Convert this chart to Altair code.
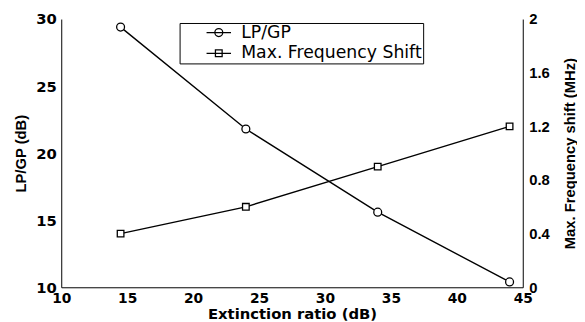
import altair as alt
import pandas as pd

# Data
ext_ratio = [14.5, 24, 34, 44]
lp_gp = [29.4, 21.8, 15.6, 10.4]
freq_shift = [0.4, 0.6, 0.9, 1.2]
series_names = ["LP/GP", "Max. Frequency Shift"]
x_ticks = [10, 15, 20, 25, 30, 35, 40, 45]
left_ticks = [10, 15, 20, 25, 30]
right_ticks = [0, 0.4, 0.8, 1.2, 1.6, 2]

df = pd.DataFrame({"x": ext_ratio, "lp": lp_gp, "fs": freq_shift})
leg_df = pd.DataFrame({"series": series_names})

W, H = 468, 272
BOLD_WIDE = "DejaVu Sans"
ARIAL = "Liberation Sans"

x_enc = alt.X("x:Q", scale=alt.Scale(domain=[10, 45], nice=False),
              axis=alt.Axis(values=x_ticks, title="Extinction ratio (dB)", grid=False,
                            ticks=False, labelFlush=False, labelOverlap=False,
                            labelFont=BOLD_WIDE, labelFontWeight="bold", labelFontSize=14,
                            labelColor="black", labelPadding=4,
                            domainColor="black", domainWidth=1,
                            titleFont=BOLD_WIDE, titleFontWeight="bold", titleFontSize=15,
                            titleColor="black", titleX=234, titleY=32,
                            titleBaseline="alphabetic"))

y_left = alt.Y("lp:Q", scale=alt.Scale(domain=[10, 30], nice=False),
               axis=alt.Axis(values=left_ticks, title="LP/GP (dB)", grid=False, ticks=False,
                             orient="left", labelFont=BOLD_WIDE, labelFontWeight="bold",
                             labelFontSize=15, labelColor="black", labelPadding=5,
                             domainColor="black", domainWidth=1,
                             titleFont=ARIAL, titleFontWeight="bold", titleFontSize=15,
                             titleColor="black", titleAngle=270, titleX=-41, titleY=H / 2,
                             titleBaseline="middle"))

y_right = alt.Y("fs:Q", scale=alt.Scale(domain=[0, 2], nice=False),
                axis=alt.Axis(values=right_ticks, format="~g",
                              title="Max. Frequency shift (MHz)", grid=False, ticks=False,
                              orient="right", labelFont=ARIAL, labelFontWeight="bold",
                              labelFontSize=15, labelColor="black", labelPadding=6,
                              domainColor="black", domainWidth=1,
                              titleFont=ARIAL, titleFontWeight="bold", titleFontSize=15,
                              titleColor="black", titleAngle=270, titleX=47, titleY=H / 2,
                              titleBaseline="middle"))

base = alt.Chart(df)
lp_line = base.mark_line(color="black", strokeWidth=1.4).encode(x=x_enc, y=y_left)
lp_pts = base.mark_point(shape="circle", filled=True, fill="white", stroke="black",
                         strokeWidth=1.3, size=64, opacity=1).encode(x="x:Q", y="lp:Q")

circle_path = "M-3.1,0H3.1M-1,0A1,1,0,1,1,1,0A1,1,0,1,1,-1,0"
square_path = "M-3.1,0H3.1M-0.85,-0.85H0.85V0.85H-0.85Z"

legend_layer = alt.Chart(leg_df).mark_point(color="black", filled=False, opacity=0).encode(
    shape=alt.Shape("series:N",
                    scale=alt.Scale(domain=series_names, range=[circle_path, square_path]),
                    legend=alt.Legend(orient="none", legendX=120, legendY=4, title=None,
                                      symbolSize=64, symbolStrokeWidth=1.3,
                                      symbolStrokeColor="black", symbolFillColor="white",
                                      symbolOpacity=1, symbolOffset=30, labelOffset=14,
                                      labelFont=BOLD_WIDE, labelFontSize=17.5,
                                      labelColor="black", labelLimit=0,
                                      padding=1, rowPadding=2, strokeColor="black",
                                      fillColor="white", cornerRadius=0))
)

left = alt.layer(lp_line, lp_pts, legend_layer)

fs_line = base.mark_line(color="black", strokeWidth=1.4).encode(x="x:Q", y=y_right)
fs_pts = base.mark_point(shape="square", filled=True, fill="white", stroke="black",
                         strokeWidth=1.3, size=45, opacity=1).encode(x="x:Q", y="fs:Q")
right = alt.layer(fs_line, fs_pts)

chart = alt.layer(left, right).resolve_scale(y="independent").properties(
    width=W, height=H,
    padding={"left": 54, "top": 9, "right": 55, "bottom": 33},
    autosize=alt.AutoSizeParams(type="none"),
    background="white",
).configure_view(stroke=None)

chart.save("out.html", embed_options={"renderer": "svg", "actions": False})
